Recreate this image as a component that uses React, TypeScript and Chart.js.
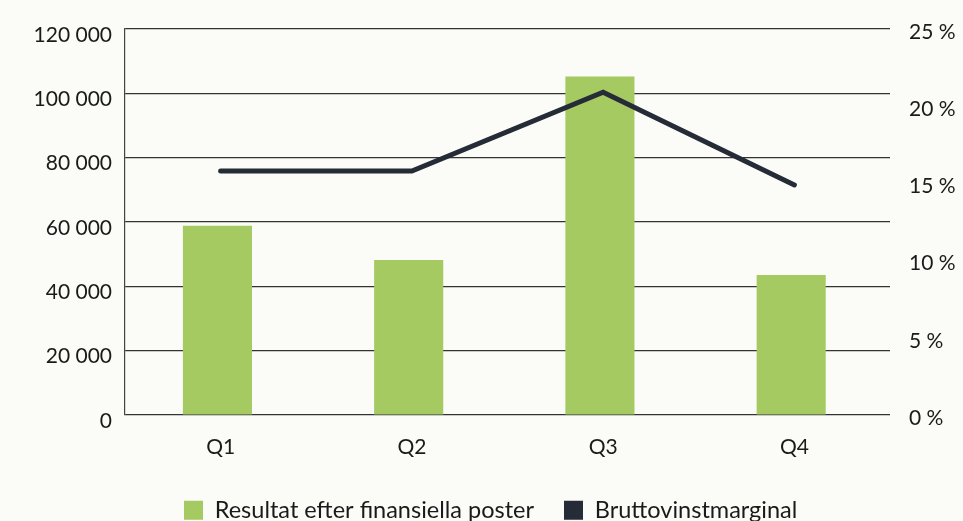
import React, { useEffect, useRef } from "react";
import { Chart, registerables } from "chart.js";

Chart.register(...registerables);

const categories = ["Q1", "Q2", "Q3", "Q4"];
const resultValues = [58800, 48200, 105200, 43500];
const marginValues = [15.8, 15.8, 20.9, 14.9];
const spacerValues = [null, null, null, null];
const leftMax = 120000;
const leftStep = 20000;
const rightMax = 25;
const rightStep = 5;

const seriesNames = ["Resultat efter finansiella poster", "Bruttovinstmarginal"];
const BAR_COLOR = "#a5ca62";
const LINE_COLOR = "#252b37";
const BG = "#fbfcf7";
const FONT = "Lato";
const LEGEND_FONT_SIZE = 23.5;
const LEGEND_PAD = 30;

const fmtThousands = (v: number) =>
  String(v).replace(/\B(?=(\d{3})+(?!\d))/g, " ");

const noAxisPadding = (s: any) => {
  s.paddingTop = 0;
  s.paddingBottom = 0;
};

export default function App() {
  const ref = useRef<HTMLCanvasElement | null>(null);

  useEffect(() => {
    document.body.style.margin = "0";
    document.body.style.background = BG;
    const canvas = ref.current;
    if (!canvas) return;

    const legendShift = {
      id: "legendShift",
      beforeDraw(chart: any) {
        if (chart.legend) {
          chart.legend.left = 184 - LEGEND_PAD;
        }
      },
    };

    const chart = new Chart(canvas, {
      type: "bar",
      data: {
        labels: categories,
        datasets: [
          {
            type: "bar",
            label: seriesNames[0],
            data: resultValues,
            backgroundColor: BAR_COLOR,
            borderWidth: 0,
            yAxisID: "y",
            order: 2,
            stack: "a",
            categoryPercentage: 0.0669,
            barPercentage: 10.8,
          },
          {
            type: "line",
            label: seriesNames[1],
            data: marginValues,
            borderColor: LINE_COLOR,
            backgroundColor: LINE_COLOR,
            borderWidth: 5,
            borderCapStyle: "round",
            borderJoinStyle: "miter",
            pointRadius: 0,
            pointHoverRadius: 0,
            tension: 0,
            yAxisID: "y1",
            order: 1,
          } as any,
          {
            type: "bar",
            label: "",
            data: spacerValues,
            backgroundColor: "rgba(0,0,0,0)",
            borderWidth: 0,
            yAxisID: "y",
            order: 3,
            stack: "b",
            categoryPercentage: 0.0669,
            barPercentage: 10.8,
          } as any,
        ],
      },
      options: {
        animation: false,
        responsive: false,
        maintainAspectRatio: false,
        layout: { padding: { top: 29, left: 0, right: 0, bottom: 0 } },
        plugins: {
          tooltip: { enabled: false },
          legend: {
            position: "bottom",
            align: "start",
            labels: {
              boxWidth: 19,
              boxHeight: 19,
              padding: LEGEND_PAD,
              color: "#1a1a1a",
              font: { family: FONT, size: LEGEND_FONT_SIZE },
              sort: (a: any, b: any) => a.datasetIndex - b.datasetIndex,
              filter: (it: any) => it.datasetIndex !== 2,
              generateLabels: (ch: any) => {
                const items = Chart.defaults.plugins.legend.labels.generateLabels(ch);
                return items.map((it: any) => ({ ...it, lineWidth: 0 }));
              },
            },
          },
        },
        scales: {
          x: {
            grid: { display: false },
            border: { display: false },
            ticks: {
              color: "#1a1a1a",
              font: { family: FONT, size: 21 },
              padding: 12,
            },
            afterFit: (s: any) => {
              s.height = 53.5;
            },
          },
          y: {
            position: "left",
            min: 0,
            max: leftMax,
            grid: { color: "#333333", lineWidth: 1.2, drawTicks: false },
            border: { display: true, color: "#444", width: 1.2 },
            ticks: {
              stepSize: leftStep,
              color: "#1a1a1a",
              font: { family: FONT, size: 21 },
              padding: 13,
              labelOffset: 6,
              callback: (v: any) => fmtThousands(Number(v)),
            },
            afterFit: (s: any) => {
              s.width = 125;
              noAxisPadding(s);
            },
          },
          y1: {
            position: "right",
            min: 0,
            max: rightMax,
            grid: { display: false, drawTicks: false },
            border: { display: false },
            ticks: {
              stepSize: rightStep,
              color: "#1a1a1a",
              font: { family: FONT, size: 21 },
              padding: 19,
              labelOffset: 3,
              callback: (v: any) => `${v} %`,
            },
            afterFit: (s: any) => {
              s.width = 963 - 890;
              noAxisPadding(s);
            },
          },
        },
      },
      plugins: [legendShift],
    });

    return () => chart.destroy();
  }, []);

  return (
    <div style={{ width: 963, height: 521, overflow: "hidden", background: BG }}>
      <canvas ref={ref} width={963} height={532} style={{ display: "block" }} />
    </div>
  );
}
